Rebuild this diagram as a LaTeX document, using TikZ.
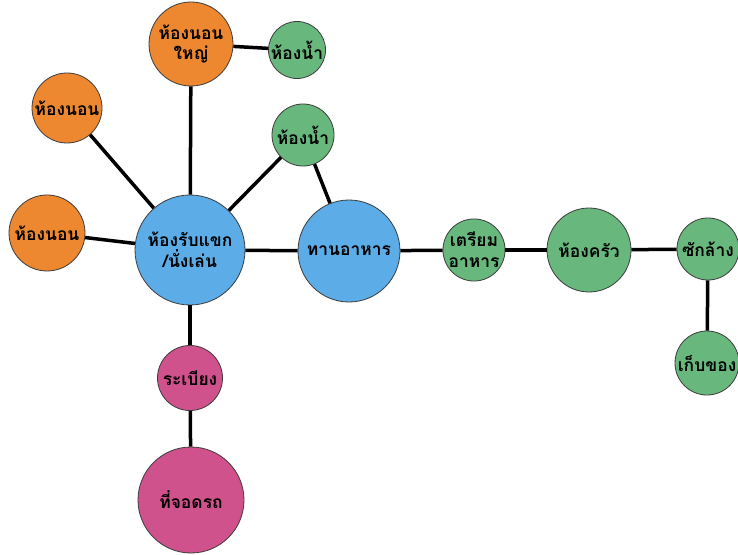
\documentclass[tikz,border=0pt]{standalone}
\usepackage{fontspec}
\newfontfamily\thaifont[Script=Thai]{Loma}
\definecolor{corange}{RGB}{238,136,48}
\definecolor{cgreen}{RGB}{104,184,126}
\definecolor{cblue}{RGB}{92,172,232}
\definecolor{cpink}{RGB}{208,82,140}
\definecolor{cedge}{RGB}{60,60,60}
\tikzset{
  room/.style={circle, draw=cedge, line width=0.8bp, inner sep=0pt, align=center,
    font=\thaifont\bfseries\fontsize{17.5}{21}\selectfont, text=black},
  orangeroom/.style={room, fill=corange},
  greenroom/.style={room, fill=cgreen},
  blueroom/.style={room, fill=cblue},
  pinkroom/.style={room, fill=cpink},
  link/.style={line width=3.5bp, black}
}
\begin{document}
\begin{tikzpicture}[x=1bp, y=-1bp]
\useasboundingbox (0,0) rectangle (738,555);
\fill[white] (0,0) rectangle (738,555);
\node[orangeroom, minimum size=84bp] (master) at (191,44) {ห้องนอน\\ใหญ่};
\node[greenroom, minimum size=57bp] (bath1) at (297,50) {ห้องน้ำ};
\node[orangeroom, minimum size=70bp] (bed1) at (67,108) {ห้องนอน};
\node[orangeroom, minimum size=76bp] (bed2) at (47,233) {ห้องนอน};
\node[blueroom, minimum size=110bp] (living) at (190,250) {ห้องรับแขก\\/นั่งเล่น};
\node[greenroom, minimum size=62bp] (bath2) at (303,135) {ห้องน้ำ};
\node[blueroom, minimum size=102bp] (dining) at (349,251) {ทานอาหาร};
\node[greenroom, minimum size=62bp] (prep) at (474,250) {เตรียม\\อาหาร};
\node[greenroom, minimum size=84bp] (kitchen) at (589,250) {ห้องครัว};
\node[greenroom, minimum size=62bp] (laundry) at (708,249) {ซักล้าง};
\node[greenroom, minimum size=64bp] (store) at (707,363) {เก็บของ};
\node[pinkroom, minimum size=65bp] (porch) at (190,378) {ระเบียง};
\node[pinkroom, minimum size=106bp] (park) at (191,500) {ที่จอดรถ};
\draw[link] (master) -- (bath1);
\draw[link] (master) -- (living);
\draw[link] (bed1) -- (living);
\draw[link] (bed2) -- (living);
\draw[link] (bath2) -- (living);
\draw[link] (bath2) -- (dining);
\draw[link] (living) -- (dining);
\draw[link] (dining) -- (prep);
\draw[link] (prep) -- (kitchen);
\draw[link] (kitchen) -- (laundry);
\draw[link] (laundry) -- (store);
\draw[link] (living) -- (porch);
\draw[link] (porch) -- (park);
\end{tikzpicture}
\end{document}
